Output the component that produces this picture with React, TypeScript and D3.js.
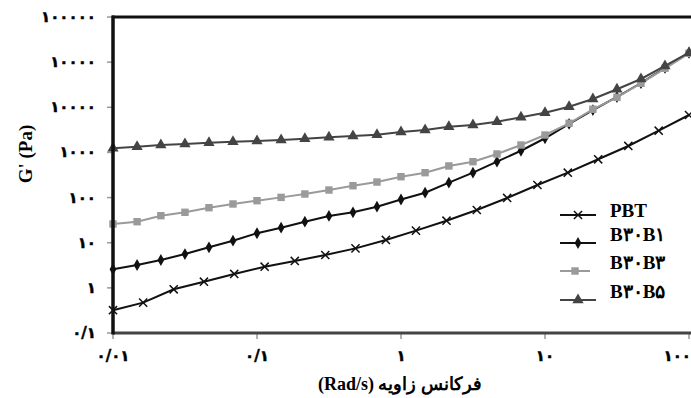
import React, { useEffect, useRef } from 'react';
import * as d3 from 'd3';

// angular frequency (rad/s)
const freqSixth = [0.01, 0.0147, 0.0215, 0.0316, 0.0464, 0.0681, 0.1, 0.147, 0.215, 0.316, 0.464, 0.681, 1, 1.47, 2.15, 3.16, 4.64, 6.81, 10, 14.7, 21.5, 31.6, 46.4, 68.1, 100];
const freqPBT = [0.01, 0.0162, 0.0264, 0.0428, 0.0695, 0.113, 0.183, 0.298, 0.483, 0.785, 1.27, 2.07, 3.36, 5.46, 8.86, 14.4, 23.4, 37.9, 61.6, 100];

// G' (Pa)
const pbt = [0.32, 0.47, 0.93, 1.37, 2.03, 2.94, 3.94, 5.34, 7.5, 11.5, 18.5, 30.7, 53, 98, 190, 356, 705, 1390, 3030, 6750];
const b30b1 = [2.58, 3.21, 4.14, 5.62, 7.9, 11.1, 16.2, 21.5, 29.2, 39.1, 47.2, 62.8, 90.6, 128, 214, 356, 624, 1090, 2060, 4270, 8700, 16900, 34500, 74300, 160000];
const b30b3 = [26, 29.2, 39.7, 47.2, 59.7, 72.1, 85.3, 101, 120, 147, 183, 221, 290, 356, 501, 624, 923, 1460, 2430, 4420, 9040, 16600, 34000, 73100, 157000];
const b30b5 = [1236, 1340, 1462, 1538, 1644, 1730, 1792, 1888, 2015, 2164, 2312, 2472, 2838, 3141, 3715, 4055, 4797, 5998, 7586, 10300, 15280, 25060, 42360, 82200, 162000];

const xTickValues = [0.01, 0.1, 1, 10, 100];
const xTickLabels = ['۰/۰۱', '۰/۱', '۱', '۱۰', '۱۰۰'];
const yTickValues = [0.1, 1, 10, 100, 1000, 10000, 100000, 1000000];
const yTickLabels = ['۰/۱', '۱', '۱۰', '۱۰۰', '۱۰۰۰', '۱۰۰۰۰', '۱۰۰۰۰', '۱۰۰۰۰۰'];

const seriesNames = ['PBT', 'B۳۰B۱', 'B۳۰B۳', 'B۳۰B۵'];

const App = () => {
  const svgRef = useRef(null);

  useEffect(() => {
    const svg = d3.select(svgRef.current);
    svg.selectAll('*').remove();

    const width = 691;
    const height = 398;
    const margin = { top: 17, right: 2, bottom: 65, left: 113 };

    const x = d3.scaleLog().domain([0.01, 100]).range([margin.left, width - margin.right]);
    const y = d3.scaleLog().domain([0.1, 1000000]).range([height - margin.bottom, margin.top]);

    const font = "'Liberation Serif', 'Times New Roman', serif";
    const digitFont = "'DejaVu Sans', sans-serif";

    // tick marks
    svg.append('g')
      .selectAll('line')
      .data(yTickValues)
      .enter()
      .append('line')
      .attr('x1', margin.left - 6)
      .attr('x2', margin.left)
      .attr('y1', d => y(d))
      .attr('y2', d => y(d))
      .attr('stroke', '#999')
      .attr('stroke-width', 1.5);

    svg.append('g')
      .selectAll('line')
      .data(xTickValues)
      .enter()
      .append('line')
      .attr('x1', d => x(d))
      .attr('x2', d => x(d))
      .attr('y1', y(0.1))
      .attr('y2', y(0.1) + 6)
      .attr('stroke', '#999')
      .attr('stroke-width', 1.5);

    // tick labels (bold persian digits)
    svg.append('g')
      .selectAll('text')
      .data(yTickValues)
      .enter()
      .append('text')
      .attr('x', margin.left - 17)
      .attr('y', d => y(d) + 5)
      .attr('text-anchor', 'end')
      .attr('font-family', digitFont)
      .attr('font-weight', 'bold')
      .attr('font-size', 15)
      .attr('stroke', '#000')
      .attr('stroke-width', 0.5)
      .text((d, i) => yTickLabels[i]);

    svg.append('g')
      .selectAll('text')
      .data(xTickValues)
      .enter()
      .append('text')
      .attr('x', (d, i) => (i === xTickValues.length - 1 ? width : x(d)))
      .attr('y', y(0.1) + 28)
      .attr('text-anchor', (d, i) => (i === xTickValues.length - 1 ? 'end' : 'middle'))
      .attr('font-family', digitFont)
      .attr('font-weight', 'bold')
      .attr('font-size', 15)
      .attr('stroke', '#000')
      .attr('stroke-width', 0.5)
      .text((d, i) => xTickLabels[i]);

    // series
    const series = [
      { name: seriesNames[0], xs: freqPBT, ys: pbt, color: '#111', marker: d3.symbolX, size: 45, stroked: true },
      { name: seriesNames[1], xs: freqSixth, ys: b30b1, color: '#111', marker: d3.symbolDiamond, size: 40, stroked: false },
      { name: seriesNames[2], xs: freqSixth, ys: b30b3, color: '#9a9a9a', marker: d3.symbolSquare, size: 55, stroked: false },
      { name: seriesNames[3], xs: freqSixth, ys: b30b5, color: '#444', marker: d3.symbolTriangle, size: 55, stroked: false },
    ];

    const line = d3.line().x(d => x(d[0])).y(d => y(d[1]));

    series.forEach(s => {
      const pts = s.xs.map((f, i) => [f, s.ys[i]]);
      svg.append('path')
        .datum(pts)
        .attr('fill', 'none')
        .attr('stroke', s.color)
        .attr('stroke-width', 2)
        .attr('d', line);

      svg.append('g')
        .selectAll('path')
        .data(pts)
        .enter()
        .append('path')
        .attr('transform', d => `translate(${x(d[0])},${y(d[1])})`)
        .attr('d', d3.symbol().type(s.marker).size(s.size)())
        .attr('fill', s.stroked ? 'none' : s.color)
        .attr('stroke', s.stroked ? s.color : 'none')
        .attr('stroke-width', 1.5);
    });

    // frame
    svg.append('line')
      .attr('x1', margin.left - 1).attr('x2', width)
      .attr('y1', margin.top).attr('y2', margin.top)
      .attr('stroke', '#111').attr('stroke-width', 3);
    svg.append('line')
      .attr('x1', margin.left).attr('x2', width)
      .attr('y1', y(0.1)).attr('y2', y(0.1))
      .attr('stroke', '#444').attr('stroke-width', 3);
    svg.append('line')
      .attr('x1', margin.left).attr('x2', margin.left)
      .attr('y1', margin.top - 1.5).attr('y2', y(0.1) + 1.5)
      .attr('stroke', '#111').attr('stroke-width', 3.5);

    // legend
    const legendY = [215, 243, 271, 300];
    const legend = svg.append('g');
    series.forEach((s, i) => {
      const lx1 = 560;
      const lx2 = i === 2 ? 590 : 596;
      legend.append('line')
        .attr('x1', lx1).attr('x2', lx2)
        .attr('y1', legendY[i]).attr('y2', legendY[i])
        .attr('stroke', s.color).attr('stroke-width', 2);
      legend.append('path')
        .attr('transform', `translate(${(lx1 + lx2) / 2},${legendY[i]})`)
        .attr('d', d3.symbol().type(s.marker).size(s.size)())
        .attr('fill', s.stroked ? 'none' : s.color)
        .attr('stroke', s.stroked ? s.color : 'none')
        .attr('stroke-width', 1.5);
      legend.append('text')
        .attr('x', 610)
        .attr('y', legendY[i] + 2 + (i === 0 ? 0 : -4))
        .attr('font-family', font)
        .attr('font-weight', 'bold')
        .attr('font-size', 19)
        .text(s.name);
    });

    // axis titles
    svg.append('text')
      .attr('transform', `translate(32,154) rotate(-90)`)
      .attr('text-anchor', 'middle')
      .attr('font-family', font)
      .attr('font-weight', 'bold')
      .attr('font-size', 19)
      .text("G' (Pa)");

    svg.append('text')
      .attr('x', 400)
      .attr('y', 390)
      .attr('text-anchor', 'middle')
      .attr('direction', 'rtl')
      .attr('font-family', font)
      .attr('font-weight', 'bold')
      .attr('font-size', 18)
      .text('فرکانس زاویه (Rad/s)');
  }, []);

  return (
    <svg
      ref={svgRef}
      width={691}
      height={398}
      style={{ position: 'absolute', left: 0, top: 0, background: '#fff' }}
    ></svg>
  );
};

export default App;
